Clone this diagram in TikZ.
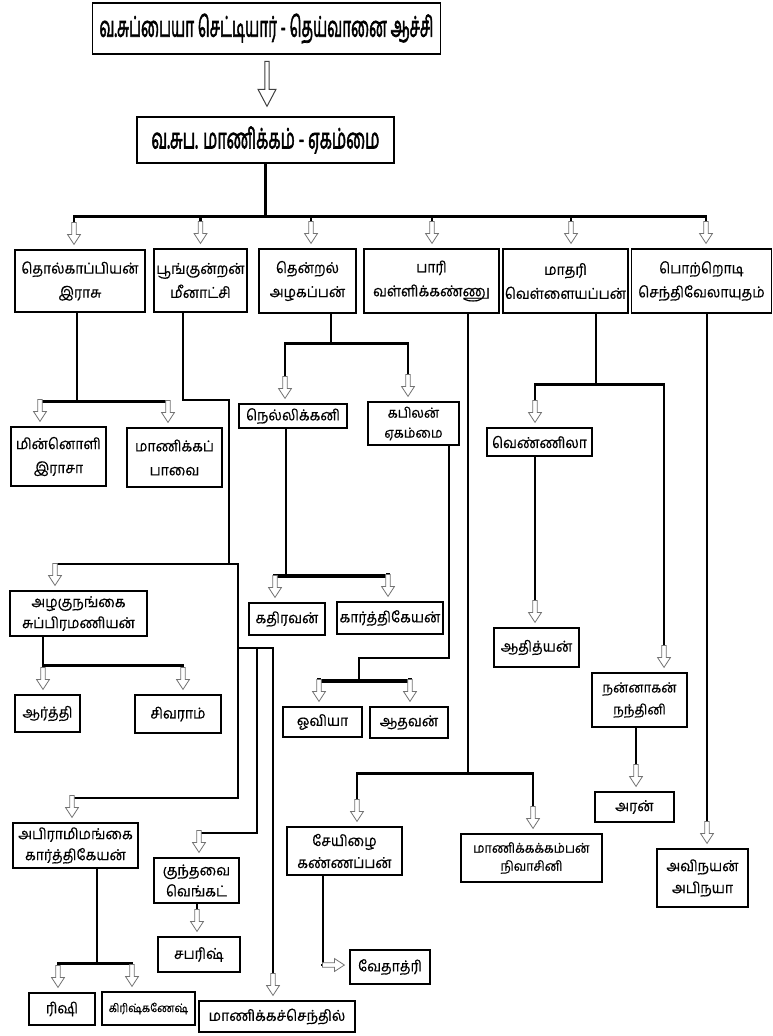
\documentclass[tikz,border=0pt]{standalone}
\usepackage{fontspec}
\usepackage{graphicx}
\newfontfamily\tamil[Script=Tamil,FakeBold=0.4,FakeStretch=0.93]{Hind Madurai}
\newfontfamily\tamilhead[Script=Tamil,FakeBold=2.6]{Hind Madurai}
\usetikzlibrary{calc}
\tikzset{
  box/.style={draw, line width=1.2pt, fill=white, align=center, inner sep=1pt,
    font=\tamil\fontsize{15}{24}\selectfont},
  headbox/.style={box, line width=1.4pt, font=\tamilhead\fontsize{25}{28}\selectfont},
  link/.style={line width=2.8pt, line cap=rect},
  hollow/.style={draw=black!55, fill=white, line width=0.8pt},
  hdown/.pic={\draw[hollow] (0,0) -- (-6.5,-10) -- (-2.3,-10) -- (-2.3,-22)
    -- (2.3,-22) -- (2.3,-10) -- (6.5,-10) -- cycle;},
  bigdown/.pic={\draw[hollow, draw=black!75, line width=1pt] (0,0) -- (-9,-17) -- (-2.2,-17)
    -- (-2.2,-45) -- (2.2,-45) -- (2.2,-17) -- (9,-17) -- cycle;},
}
% parent bar point, child node, x offset of the arrow from the child's centre
\newcommand\kid[4][]{%
  \draw[link,#1] (#2) -| ($(#3.north)+(#4,-26)$);
  \pic at ($(#3.north)+(#4,-5)$) {hdown};}

\begin{document}
\begin{tikzpicture}[x=1pt, y=-1pt]
    \useasboundingbox (0,0) rectangle (773,1036);

    % Grandparents and parents
    \node[headbox, minimum width=348pt, minimum height=51pt] (top) at (266.5,28.5)
      {\resizebox{334pt}{23pt}{வ.சுப்பையா செட்டியார் - தெய்வானை ஆச்சி}};
    \node[headbox, minimum width=257pt, minimum height=46pt] (gen2) at (265.5,140)
      {\resizebox{228pt}{22pt}{வ.சுப. மாணிக்கம் - ஏகம்மை}};
    \pic at ($(gen2.north)+(1.5,-10)$) {bigdown};

    % Children
    \node[box, minimum width=130pt, minimum height=62pt] (r1) at (80,281) {தொல்காப்பியன்\\இராசு};
    \node[box, minimum width=93pt, minimum height=63pt] (r2) at (200.5,280.5) {பூங்குன்றன்\\மீனாட்சி};
    \node[box, minimum width=97pt, minimum height=64pt] (r3) at (307.5,281) {தென்றல்\\அழகப்பன்};
    \node[box, minimum width=135pt, minimum height=64pt] (r4) at (431.5,281) {பாரி\\வள்ளிக்கண்ணு};
    \node[box, minimum width=125pt, minimum height=64pt] (r5) at (565.5,281) {மாதரி\\வெள்ளையப்பன்};
    \node[box, minimum width=140pt, minimum height=64pt] (r6) at (701.5,281) {பொற்றொடி\\செந்திவேலாயுதம்};

    \draw[link] (gen2.south) -- ++(0,53) coordinate (j0);
    \kid{j0}{r1}{-6}
    \kid{j0}{r2}{0}
    \kid{j0}{r3}{3.5}
    \kid{j0}{r4}{0.5}
    \kid{j0}{r5}{5.5}
    \kid{j0}{r6}{4.5}

    % Grandchildren
    \node[box, minimum width=95pt, minimum height=59pt] (minnoli) at (58.5,456.5) {மின்னொளி\\இராசா};
    \node[box, minimum width=95pt, minimum height=59pt] (manikka) at (174.5,457.5) {மாணிக்கப்\\பாவை};
    \node[box, minimum width=108pt, minimum height=24pt] (nelli) at (293,416) {நெல்லிக்கனி};
    \node[box, minimum width=91pt, minimum height=43pt, font=\tamil\fontsize{14}{20}\selectfont] (kapilan) at (413.5,423.5) {கபிலன்\\ஏகம்மை};
    \node[box, minimum width=105pt, minimum height=28pt] (vennila) at (539.5,442) {வெண்ணிலா};
    \node[box, minimum width=137pt, minimum height=45pt, font=\tamil\fontsize{15}{21}\selectfont] (alagu) at (78.5,613.5) {அழகுநங்கை\\சுப்பிரமணியன்};
    \node[box, minimum width=76pt, minimum height=32pt] (kathir) at (287,619) {கதிரவன்};
    \node[box, minimum width=106pt, minimum height=32pt] (karthi) at (390,618) {கார்த்திகேயன்};
    \node[box, minimum width=85pt, minimum height=39pt] (aathi) at (536.5,647.5) {ஆதித்யன்};
    \node[box, minimum width=95pt, minimum height=54pt, font=\tamil\fontsize{14}{22}\selectfont] (nannagan) at (639.5,700) {நன்னாகன்\\நந்தினி};
    \node[box, minimum width=65pt, minimum height=37pt] (aarthi) at (47.5,713.5) {ஆர்த்தி};
    \node[box, minimum width=86pt, minimum height=38pt] (sivaram) at (178,714) {சிவராம்};
    \node[box, minimum width=79pt, minimum height=30pt] (oviya) at (322.5,722) {ஓவியா};
    \node[box, minimum width=78pt, minimum height=31pt] (aathavan) at (409,722.5) {ஆதவன்};
    \node[box, minimum width=79pt, minimum height=30pt] (aran) at (634.5,807) {அரன்};
    \node[box, minimum width=125pt, minimum height=45pt, font=\tamil\fontsize{15}{21}\selectfont] (abirami) at (75.5,845.5) {அபிராமிமங்கை\\கார்த்திகேயன்};
    \node[box, minimum width=115pt, minimum height=48pt, font=\tamil\fontsize{15}{22}\selectfont] (seyizhai) at (344.5,851) {சேயிழை\\கண்ணப்பன்};
    \node[box, minimum width=141pt, minimum height=48pt, font=\tamil\fontsize{13.5}{18}\selectfont] (nivasini) at (531.5,858) {மாணிக்கக்கம்பன்\\நிவாசினி};
    \node[box, minimum width=91pt, minimum height=58pt, font=\tamil\fontsize{15}{22}\selectfont] (abinaya) at (702.5,878) {அவிநயன்\\அபிநயா};
    \node[box, minimum width=85pt, minimum height=45pt, font=\tamil\fontsize{15}{21}\selectfont] (kunthavai) at (196.5,880.5) {குந்தவை\\வெங்கட்};
    \node[box, minimum width=82pt, minimum height=35pt] (sabarish) at (199,954.5) {சபரிஷ்};
    \node[box, minimum width=80pt, minimum height=34pt] (vethathri) at (390,967) {வேதாத்ரி};
    \node[box, minimum width=66pt, minimum height=32pt] (rishi) at (62,1009) {ரிஷி};
    \node[box, minimum width=93pt, minimum height=33pt, font=\tamil\fontsize{11.5}{13}\selectfont] (krish) at (148.5,1008.5) {கிரிஷ்கணேஷ்};
    \node[box, minimum width=156pt, minimum height=31pt] (senthil) at (277,1016.5) {மாணிக்கச்செந்தில்};

    % Thol. Iraasu
    \draw[link] ($(r1.south)+(-3,0)$) -- ++(0,89) coordinate (j1);
    \kid{j1}{minnoli}{-18.5}
    \kid{j1}{manikka}{-6.5}

    % Poonkunran Meenatchi
    \draw[link] ($(r2.south)+(-17.5,0)$) |- (229,400) |- (238,564) coordinate (j2);
    \kid{j2}{alagu}{-23.5}
    \draw[link] (j2) -- (238,648) coordinate (j3);
    \draw[link] (j3) -- (238,798) coordinate (j4);
    \kid{j4}{abirami}{-3.5}
    \draw[link] (j3) -| (257,833) coordinate (j5);
    \kid{j5}{kunthavai}{2.5}
    \kid{j3}{senthil}{-4}

    % Thenral Alagappan
    \draw[link] ($(r3.south)+(23.5,0)$) -- ++(0,30) coordinate (j7);
    \kid{j7}{nelli}{-8}
    \kid{j7}{kapilan}{-5.5}
    \draw[link] ($(nelli.south)+(-7,0)$) -- ++(0,147) coordinate (j8);
    \kid[line width=4.2pt]{j8}{kathir}{-12}
    \kid[line width=4.2pt]{j8}{karthi}{-2}
    \draw[link] ($(kapilan.south)+(35.5,0)$) |- (359,658) -- (359,681) coordinate (j9);
    \kid[line width=4.8pt]{j9}{oviya}{-3.5}
    \kid[line width=4.8pt]{j9}{aathavan}{1}

    % Paari Vallikkannu
    \draw[link] ($(r4.south)+(36.5,0)$) -- ++(0,460) coordinate (j10);
    \kid{j10}{seyizhai}{12.5}
    \kid{j10}{nivasini}{1.5}
    \draw[link] ($(seyizhai.south)+(-21.5,0)$) |- ($(vethathri.west)+(-27,-2)$);
    \pic[rotate=90] at ($(vethathri.west)+(-5,-2)$) {hdown};

    % Maathari Vellaiyappan
    \draw[link] ($(r5.south)+(30.5,0)$) -- ++(0,71) coordinate (j11);
    \kid{j11}{vennila}{-4.5}
    \kid{j11}{nannagan}{24.5}
    \kid{$(vennila.south)+(-4.5,0)$}{aathi}{-1.5}
    \kid{$(nannagan.south)+(-3.5,0)$}{aran}{1.5}

    % Porrodi Senthivelayutham
    \kid{$(r6.south)+(5.5,0)$}{abinaya}{4.5}

    % third generation
    \kid{$(kunthavai.south)+(0.5,0)$}{sabarish}{-2}
    \draw[link] ($(abirami.south)+(21.5,0)$) -- ++(0,95) coordinate (j13);
    \kid{j13}{rishi}{-4}
    \kid{j13}{krish}{-16.5}
    \draw[link] ($(alagu.south)+(-35.5,0)$) -- ++(0,29) coordinate (j14);
    \kid{j14}{aarthi}{-4.5}
    \kid{j14}{sivaram}{5}
\end{tikzpicture}
\end{document}
